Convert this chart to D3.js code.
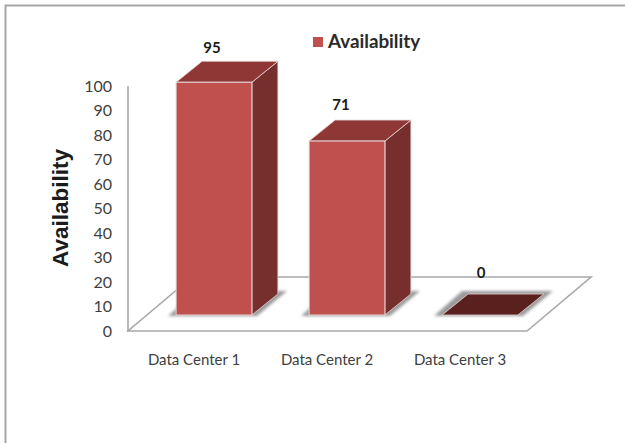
<!DOCTYPE html>
<html>
<head>
<meta charset="utf-8">
<script src="https://cdn.jsdelivr.net/npm/d3@7"></script>
<style>
html,body{margin:0;padding:0;background:#fff}
svg{display:block}
</style>
</head>
<body>
<svg id="chart" width="625" height="443"></svg>
<script>
const categories = ["Data Center 1", "Data Center 2", "Data Center 3"];
const availability = [95, 71, 0];
const yTicks = [0, 10, 20, 30, 40, 50, 60, 70, 80, 90, 100];
const seriesName = "Availability";

const svg = d3.select("#chart");
const defs = svg.append("defs");
defs.append("filter").attr("id", "soft")
  .attr("x", "-20%").attr("y", "-40%").attr("width", "140%").attr("height", "180%")
  .append("feGaussianBlur").attr("stdDeviation", 1.5);

// Outer frame: only the top and left edges fall inside the canvas
svg.append("path").attr("d", "M5.5,443V5.5H625")
  .attr("fill", "none").attr("stroke", "#a6a6a6").attr("stroke-width", 2);

// Front plane of the plot; bars stand a little behind it on the floor
const y = d3.scaleLinear().domain([0, 100]).range([331, 86]);
const x = d3.scaleBand().domain(categories).range([147.5, 546.5]).paddingInner(0.43).paddingOuter(0.215);

const depth = { dx: 26, dy: -21 };          // bar depth projection
const floor = { x0: 128, x1: 527, dx: 64, dy: -54 };
const barLift = 16;                         // bar foot sits above the floor's front edge

// Floor outline and value axis
const axisColor = "#a8a8a8";
svg.append("path")
  .attr("d", `M${floor.x0},${y(0)}H${floor.x1}L${floor.x1 + floor.dx},${y(0) + floor.dy}H${floor.x0 + floor.dx}Z`)
  .attr("fill", "#fff").attr("stroke", axisColor).attr("stroke-width", 1.6);
svg.append("line")
  .attr("x1", floor.x0).attr("x2", floor.x0).attr("y1", y(0)).attr("y2", y(100))
  .attr("stroke", axisColor).attr("stroke-width", 1.6);

const axisFont = "Lato, 'Open Sans', sans-serif";

// Value axis labels
svg.append("g").selectAll("text").data(yTicks).join("text")
  .attr("x", 112).attr("y", d => y(d)).attr("dy", "0.36em")
  .attr("text-anchor", "end")
  .attr("font-family", axisFont).attr("font-size", 16).attr("fill", "#3f3f3f")
  .text(d => d);

// Category labels
svg.append("g").selectAll("text").data(categories).join("text")
  .attr("x", d => x(d) + x.bandwidth() / 2 - 20).attr("y", 365)
  .attr("text-anchor", "middle")
  .attr("font-family", axisFont).attr("font-size", 15).attr("fill", "#404040")
  .text(d => d);

// Axis title
svg.append("text")
  .attr("transform", "translate(68,208) rotate(-90)")
  .attr("text-anchor", "middle")
  .attr("font-family", "'Liberation Sans', Arial, sans-serif")
  .attr("font-weight", "bold").attr("font-size", 22.5).attr("fill", "#1c1c1c")
  .text(seriesName);

const rows = categories.map((c, i) => ({ c, v: availability[i] }));
const foot = y(0) - barLift;
const barTop = d => foot - (y(0) - y(d.v));

// Soft shadows cast on the floor
svg.append("g").attr("filter", "url(#soft)").selectAll("path").data(rows).join("path")
  .attr("d", d => {
    const l = x(d.c), r = l + x.bandwidth();
    return `M${l - 8},${foot + 1}H${r + 5}L${r + depth.dx + 9},${foot + depth.dy - 3}H${l + depth.dx - 6}Z`;
  })
  .attr("fill", "#9a9a9a");

// Bars: side, lid, front
const bars = svg.append("g").selectAll("g").data(rows).join("g");
bars.filter(d => d.v > 0).append("path")
  .attr("d", d => {
    const r = x(d.c) + x.bandwidth();
    return `M${r},${foot}V${barTop(d)}l${depth.dx},${depth.dy}V${foot + depth.dy}Z`;
  })
  .attr("fill", "#772f2d").attr("stroke", "#e4d6d6").attr("stroke-width", 0.8);
bars.append("path")
  .attr("d", d => {
    const l = x(d.c), w = x.bandwidth();
    return `M${l},${barTop(d)}h${w}l${depth.dx},${depth.dy}h${-w}Z`;
  })
  .attr("fill", d => d.v > 0 ? "#8e3735" : "#5a201e")
  .attr("stroke", "#e4d6d6").attr("stroke-width", 0.8);
bars.filter(d => d.v > 0).append("rect")
  .attr("x", d => x(d.c)).attr("y", barTop).attr("width", x.bandwidth()).attr("height", d => foot - barTop(d))
  .attr("fill", "#c0504d").attr("stroke", "#e4d6d6").attr("stroke-width", 1);

// Value labels, offset slightly from each lid
const labelNudgeX = [-2, -6, 1];
const labelNudgeY = [0, -2, -8];
svg.append("g").selectAll("text").data(rows).join("text")
  .attr("x", (d, i) => x(d.c) + x.bandwidth() / 2 + labelNudgeX[i])
  .attr("y", (d, i) => barTop(d) + depth.dy - 8 + labelNudgeY[i])
  .attr("text-anchor", "middle")
  .attr("font-family", axisFont).attr("font-weight", 700).attr("font-size", 15).attr("fill", "#1a1a1a")
  .text(d => d.v);

// Legend
svg.append("rect").attr("x", 313).attr("y", 37).attr("width", 10).attr("height", 10).attr("fill", "#c0504d");
svg.append("text").attr("x", 328).attr("y", 48)
  .attr("font-family", axisFont).attr("font-weight", 700).attr("font-size", 18.8).attr("fill", "#2a2a2a")
  .text(seriesName);
</script>
</body>
</html>
